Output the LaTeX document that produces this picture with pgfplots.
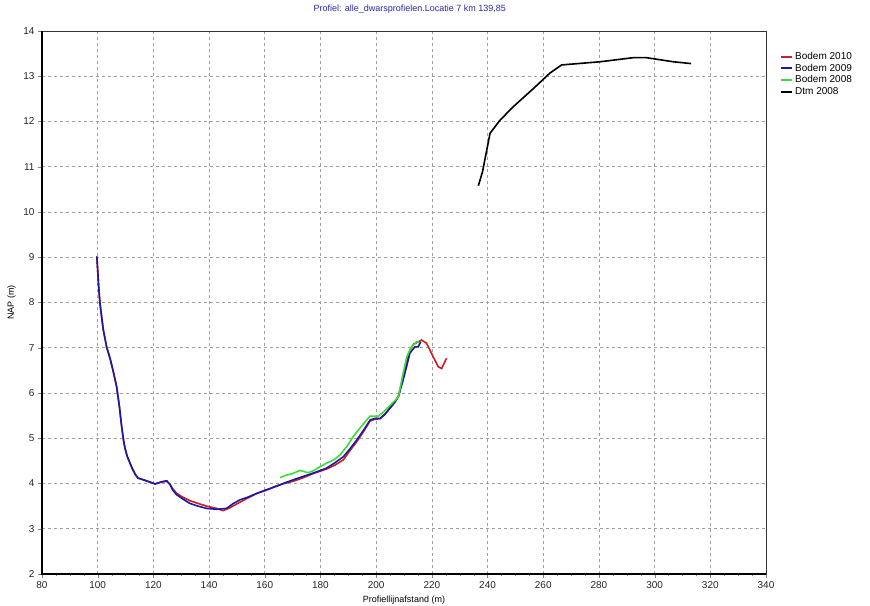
\documentclass[border=0pt]{standalone}
\usepackage{fontspec}
\setmainfont{Liberation Sans}
\usepackage{pgfplots}
\pgfplotsset{compat=1.18}
\definecolor{cRed}{RGB}{205,30,35}
\definecolor{cBlue}{RGB}{25,25,165}
\definecolor{cGreen}{RGB}{60,220,50}
\definecolor{cTitle}{RGB}{40,40,170}
\begin{document}
\begin{tikzpicture}
\useasboundingbox (-42pt,-31pt) rectangle (828pt,574pt);
\begin{axis}[
  scale only axis, width=724pt, height=543pt,
  xmin=80, xmax=340, ymin=2, ymax=14,
  xtick={80,100,...,340}, ytick={2,3,...,14},
  minor x tick num=3,
  tick pos=left, tick align=outside,
  major tick length=4pt, minor tick length=2.5pt,
  axis line style={line width=0.6pt, black!80},
  grid=major,
  major grid style={dash pattern=on 3pt off 3pt, gray!75, line width=0.6pt},
  /pgf/number format/assume math mode=true,
  /pgf/number format/1000 sep={},
  ticklabel style={font=\fontsize{10}{11}\selectfont, text=black!85},
  title={Profiel: alle\_dwarsprofielen.Locatie 7 km 139,85},
  title style={at={(axis description cs:0.508,1.029)}, anchor=center, font=\fontsize{9}{10}\selectfont, text=cTitle},
  xlabel={Profiellijnafstand (m)},
  xlabel style={at={(axis description cs:0.5,-0.049)}, anchor=center, font=\fontsize{9}{10}\selectfont},
  ylabel={NAP (m)},
  ylabel style={at={(axis description cs:-0.042,0.5)}, anchor=center, font=\fontsize{9}{10}\selectfont},
  legend style={at={(rel axis cs:1,1)}, anchor=north west, xshift=13pt, yshift=-18pt,
    draw=none, fill=none, font=\fontsize{10}{12}\selectfont, row sep=-1pt,
    inner sep=1pt},
  legend cell align=left,
  legend image code/.code={\draw[#1, line width=2pt] (0pt,0pt) -- (11pt,0pt);},
  after end axis/.code={
    \draw[line width=1.6pt, black] (rel axis cs:0,1) -- (rel axis cs:0,0) -- (rel axis cs:1,0);
  },
]
% Bodem 2010
\addplot[cRed, line width=1.6pt] coordinates {
(99.7,9.02) (100.3,8.4) (100.8,7.99) (102,7.4) (103.2,7.02) (104.5,6.75) (105.5,6.5)
(106.8,6.14) (107.8,5.7) (108.6,5.26) (109.3,4.95) (109.8,4.78) (110.6,4.6) (111.6,4.45) (112.5,4.32) (113.5,4.2) (114.5,4.12)
(117,4.07) (120.6,3.99) (123,4.03) (124.8,4.05) (126,3.98) (127,3.88) (128.4,3.78)
(130.5,3.70) (133.1,3.62) (136,3.56) (139.1,3.50) (142.7,3.45) (145,3.40) (147,3.45)
(150,3.55) (153,3.65) (157.1,3.78) (160.5,3.85) (164.3,3.95) (167,4.00) (170.2,4.05)
(173.5,4.12) (177.4,4.22) (182.2,4.32) (185,4.40) (188.2,4.52) (190.5,4.72) (193,4.92)
(195.5,5.15) (197.8,5.38) (199.5,5.42) (201.4,5.43) (203,5.52) (204.4,5.63) (206.5,5.78)
(208,5.93) (209.7,6.35) (211,6.70) (212.1,6.95) (213.5,7.08) (215.1,7.13) (216.3,7.17)
(218.1,7.10) (220.5,6.80) (222.3,6.58) (223.5,6.54) (225.3,6.77)
};
\addlegendentry{Bodem 2010}
% Bodem 2009
\addplot[cBlue, line width=1.6pt] coordinates {
(99.7,9.02) (100.3,8.4) (100.8,7.99) (102,7.4) (103.2,7.02) (104.5,6.75) (105.5,6.5)
(106.8,6.14) (107.8,5.7) (108.6,5.26) (109.3,4.95) (109.8,4.78) (110.6,4.6) (111.6,4.45) (112.5,4.32) (113.5,4.2) (114.5,4.12)
(117,4.07) (120.6,3.99) (123,4.04) (124.8,4.06) (126,3.97) (127,3.85) (128.4,3.75)
(130.5,3.66) (133.1,3.56) (136,3.50) (139.1,3.45) (142.7,3.43) (146.3,3.45) (148.5,3.55)
(151.1,3.64) (154,3.70) (157.1,3.78) (160.5,3.86) (164.3,3.94) (167,4.01) (170.2,4.08)
(173.5,4.15) (177.4,4.23) (182.2,4.34) (185,4.45) (188.2,4.59) (190.5,4.76) (193,4.96)
(195.5,5.18) (197.8,5.40) (199.5,5.44) (201.4,5.44) (203,5.52) (204.4,5.62) (206.5,5.78)
(208,5.92) (209.7,6.29) (211,6.6) (212.1,6.88) (213.9,7.02) (215.1,7.02) (216,7.13)
};
\addlegendentry{Bodem 2009}
% Bodem 2008
\addplot[cGreen, line width=1.6pt] coordinates {
(165.5,4.13) (167.5,4.18) (170,4.22) (172.6,4.29) (175.5,4.24) (177.4,4.28) (179.8,4.37)
(182.2,4.45) (185,4.53) (187,4.63) (189.5,4.82) (191.8,5.04) (194.5,5.25) (197.8,5.49)
(200.8,5.49) (203,5.60) (205.1,5.73) (207,5.85) (208,5.92) (209.7,6.44) (211,6.8)
(212.7,7.02) (214.5,7.13) (215.3,7.13)
};
\addlegendentry{Bodem 2008}
% Dtm 2008
\addplot[black, line width=1.6pt] coordinates {
(236.7,10.58) (238.2,10.89) (240.9,11.74) (244.5,12.03) (249.3,12.33) (256.5,12.73)
(262.4,13.07) (266.6,13.25) (280.4,13.32) (292.3,13.41) (297.1,13.41) (306.7,13.32)
(313.1,13.28)
};
\addlegendentry{Dtm 2008}
\end{axis}
\end{tikzpicture}
\end{document}
